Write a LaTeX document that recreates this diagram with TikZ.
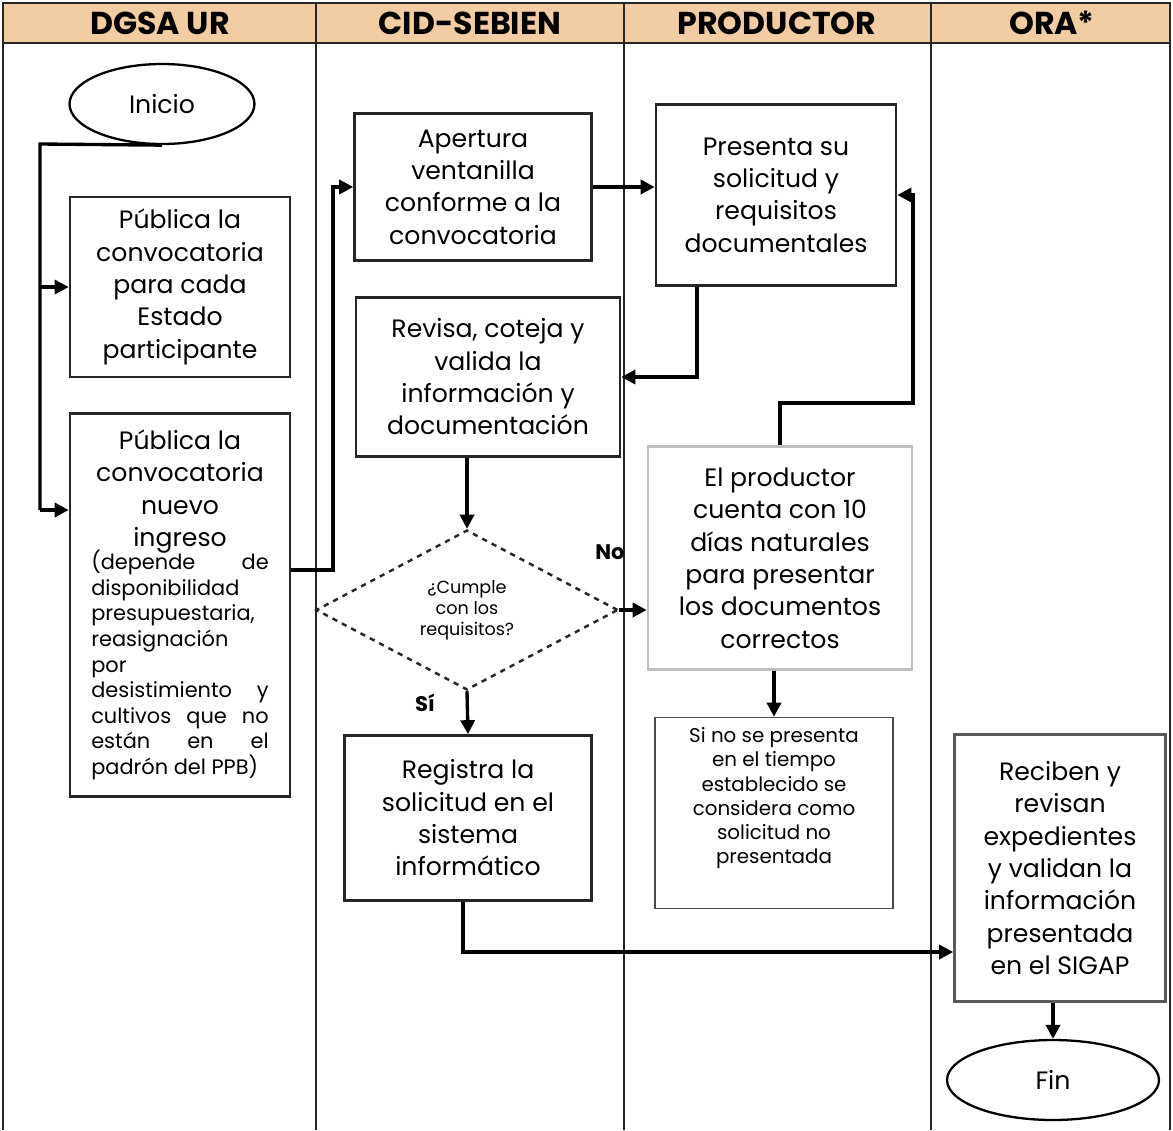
\documentclass[tikz,border=0pt]{standalone}
\usepackage{fontspec}
\setmainfont{Poppins}
\usepackage{tikz}
\usetikzlibrary{shapes.geometric,arrows.meta}
\definecolor{hdr}{RGB}{242,204,162}
\newcommand{\boxfont}{\fontsize{14.3}{18.4}\selectfont}
\newcommand{\smallfont}{\fontsize{11.9}{14.6}\selectfont}

\begin{document}
\begin{tikzpicture}[x=0.02cm,y=-0.02cm,
box/.style={rectangle, draw=black!85, line width=1.5pt, align=center, inner sep=2pt, font=\boxfont},
oval/.style={ellipse, draw=black, line width=1.3pt, minimum width=3.7cm, minimum height=1.6cm, font=\boxfont},
arr/.style={line width=1.9pt, -{Triangle[length=8pt,width=8pt]}},
lane/.style={line width=0.9pt, draw=black!85},
head/.style={font=\fontsize{18}{20}\selectfont\bfseries}
]
\useasboundingbox (0,0) rectangle (1173,1130);

\fill[hdr] (3,3) rectangle (1170,43);
\draw[lane] (3,1130) -- (3,3) -- (1170,3) -- (1170,1130);
\draw[lane] (3,43) -- (1170,43);
\draw[lane] (316,3) -- (316,1130);
\draw[lane] (624,3) -- (624,1130);
\draw[lane] (931,3) -- (931,1130);

\node [head] (h1) at (160,23) {DGSA UR};
\node [head] (h2) at (470,23) {CID-SEBIEN};
\node [head] (h3) at (777,23) {PRODUCTOR};
\node [head] (h4) at (1052,23) {ORA*};

\node [oval] (inicio) at (162,104) {Inicio};

\node [box, minimum width=4.4cm, minimum height=3.6cm] (pub1) at (180,287)
  {Pública la\\convocatoria\\para cada\\Estado\\participante};
\node [box, minimum width=4.4cm, minimum height=7.66cm] (pub2) at (180,605)
  {Pública la\\convocatoria\\nuevo\\ingreso\\[-3pt]
  \smallfont\parbox{3.55cm}{(depende\hfill de\\ disponibilidad\\ presupuestaria,\\ reasignación\\ por\\ desistimiento\hfill y\\ cultivos\hfill que\hfill no\\ están\hfill en\hfill el\\ padrón del PPB)}};

\node [box, minimum width=4.74cm, minimum height=2.94cm] (apert) at (473,187)
  {Apertura\\ventanilla\\conforme a la\\convocatoria};
\node [box, minimum width=5.28cm, minimum height=3.18cm] (revisa) at (488,377)
  {Revisa, coteja y\\valida la\\información y\\documentación};
\node [diamond, draw=black!85, dashed, line width=1.4pt, minimum width=6.04cm, minimum height=3.2cm, inner sep=0pt, align=center, font=\fontsize{10}{12}\selectfont] (dec) at (467,610)
  {¿Cumple\\con los\\requisitos?};
\node [box, minimum width=4.94cm, minimum height=3.3cm] (reg) at (468,818)
  {Registra la\\solicitud en el\\sistema\\informático};

\node [box, minimum width=4.8cm, minimum height=3.62cm] (pres) at (776,195)
  {Presenta su\\solicitud y\\requisitos\\documentales};
\node [box, draw=black!25, minimum width=5.28cm, minimum height=4.46cm] (prod) at (780,558)
  {El productor\\cuenta con 10\\días naturales\\para presentar\\los documentos\\correctos};
\node [box, draw=black!70, line width=0.9pt, minimum width=4.76cm, minimum height=3.82cm, font=\fontsize{11.3}{13.8}\selectfont] (sino) at (774,813)
  {Si no se presenta\\en el tiempo\\establecido se\\considera como\\solicitud no\\presentada\\[6pt]};

\node [box, draw=black!65, minimum width=4.22cm, minimum height=5.34cm] (recib) at (1060,868)
  {Reciben y\\revisan\\expedientes\\y validan la\\información\\presentada\\en el SIGAP};
\node [oval, minimum width=4.24cm] (fin) at (1053,1080) {Fin};

\node [font=\fontsize{12}{13}\selectfont\bfseries] (no) at (610,552) {No};
\node [font=\fontsize{12}{13}\selectfont\bfseries] (si) at (425,703) {Sí};

\coordinate (j1) at (40,144);
\coordinate (j2) at (40,510);
\coordinate (k1) at (333,570);
\coordinate (k2) at (697,377);
\coordinate (k3) at (913,403);
\coordinate (k4) at (463,952);

\draw [line width=1.9pt] (inicio.south) -- (j1) -- (j2);
\draw [arr] (j1 |- pub1.west) -- (pub1.west);
\draw [arr] (j2) -- (pub2.west |- j2);
\draw [arr] (pub2.east |- k1) -- (k1) |- (apert.west);
\draw [arr] (apert.east) -- (apert.east -| pres.west);
\draw [arr] (pres.south -| k2) -- (k2) -- (revisa.east);
\draw [arr] (revisa.south -| dec.north) -- (dec.north);
\draw [arr] (dec.east) -- (prod.west |- dec.east);
\draw [arr] (dec.south) -- (reg.north);
\draw [arr] (prod.north) |- (k3) |- (pres.east);
\draw [arr] (prod.south -| sino.north) -- (sino.north);
\draw [arr] (reg.south -| k4) -- (k4) -- (recib.west |- k4);
\draw [arr] (recib.south -| fin.north) -- (fin.north);
\end{tikzpicture}
\end{document}
